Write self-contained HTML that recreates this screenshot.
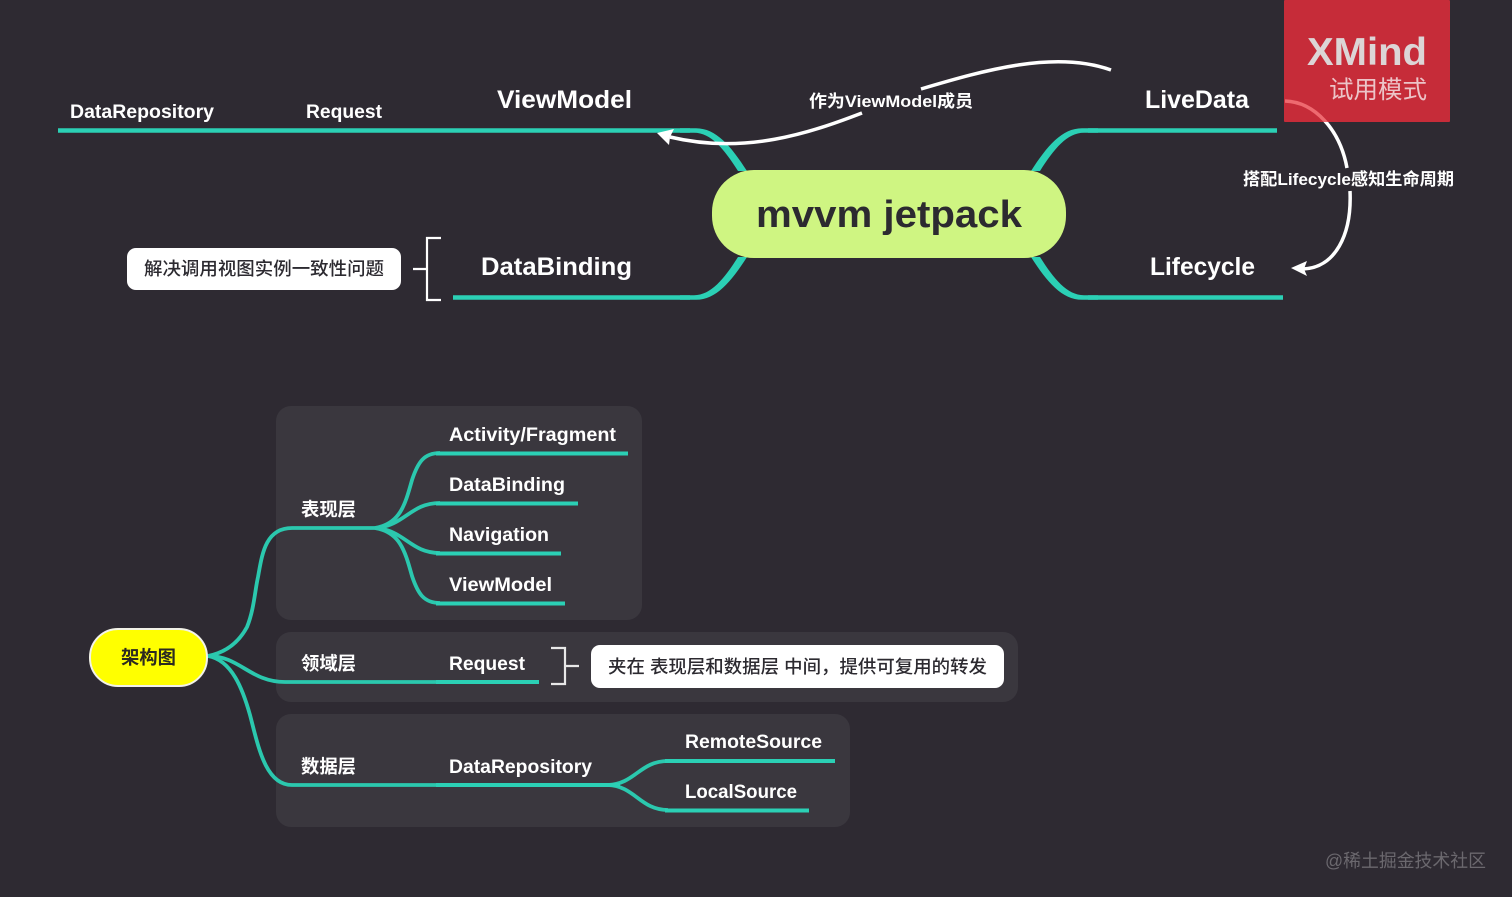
<!DOCTYPE html>
<html>
<head>
<meta charset="utf-8">
<style>
html,body{margin:0;padding:0;background:#2e2a32;width:1512px;height:897px;overflow:hidden}
svg{display:block}
text{font-family:"Liberation Sans","Noto Sans CJK SC",sans-serif;font-weight:700;fill:#fff}
.cjk{font-weight:700}
.note{font-weight:500;fill:#2c2a30}
</style>
</head>
<body>
<svg width="1512" height="897" viewBox="0 0 1512 897" xmlns="http://www.w3.org/2000/svg">
<defs>
<clipPath id="onRed"><rect x="1284" y="0" width="166" height="122"/></clipPath>
<clipPath id="offRed"><rect x="1284" y="122" width="166" height="60"/></clipPath>
<path id="taper" d="M680 128.200H696C716 128.200 731 146 747 171L738 171C724 149 711 132.800 694 132.800H680Z" fill="#2bd0b5"/>
</defs>
<rect width="1512" height="897" fill="#2e2a32"/>

<!-- watermark panel -->
<rect x="1284" y="0" width="166" height="122" rx="1" fill="#c62c39"/>
<text x="1307" y="65" font-size="39" textLength="120" lengthAdjust="spacingAndGlyphs" style="fill:#dcd5d6">XMind</text>
<text x="1329" y="98" font-size="24.5" textLength="98" lengthAdjust="spacingAndGlyphs" style="fill:#ecc4c8;font-weight:400">试用模式</text>

<!-- group panels -->
<rect x="276" y="406" width="366" height="214" rx="15" fill="#3a373e"/>
<rect x="276" y="632" width="742" height="70" rx="15" fill="#3a373e"/>
<rect x="276" y="714" width="574" height="113" rx="15" fill="#3a373e"/>

<!-- top map connectors -->
<g fill="none" stroke="#2bd0b5" stroke-width="4.500">
<path d="M58 130.500H690"/>
<path d="M453 297.500H690"/>
<path d="M1277 130.500H1088"/>
<path d="M1283 297.500H1088"/>
</g>
<use href="#taper"/>
<use href="#taper" transform="matrix(-1 0 0 1 1778 0)"/>
<use href="#taper" transform="matrix(1 0 0 -1 0 428)"/>
<use href="#taper" transform="matrix(-1 0 0 -1 1778 428)"/>

<!-- central topic -->
<rect x="712" y="170" width="354" height="88" rx="42" fill="#cff582"/>
<text x="756" y="227" font-size="38" textLength="266" lengthAdjust="spacingAndGlyphs" style="fill:#2c2a30">mvvm jetpack</text>

<!-- relationship curves -->
<g fill="none" stroke="#fff" stroke-width="3.500">
<path d="M1111 70C1055 50 985 70 921 89"/>
<path d="M862 113C810 133 745 155 670 137"/>
<path d="M1285 101C1315 102 1340 130 1347 168" stroke="#ee6a70" clip-path="url(#onRed)"/>
<path d="M1285 101C1315 102 1340 130 1347 168" clip-path="url(#offRed)"/>
<path d="M1350 191C1352 235 1335 268 1303 269"/>
</g>
<polygon points="657,133 674,129 670,137 669,145" fill="#fff"/>
<polygon points="1291,268 1307,261 1304,269 1307,276" fill="#fff"/>

<!-- top labels -->
<text x="70" y="118" font-size="19" textLength="144" lengthAdjust="spacingAndGlyphs">DataRepository</text>
<text x="306" y="118" font-size="19" textLength="76" lengthAdjust="spacingAndGlyphs">Request</text>
<text x="497" y="108" font-size="25" textLength="135" lengthAdjust="spacingAndGlyphs">ViewModel</text>
<text x="481" y="275" font-size="25" textLength="151" lengthAdjust="spacingAndGlyphs">DataBinding</text>
<text x="1145" y="108" font-size="25" textLength="104" lengthAdjust="spacingAndGlyphs">LiveData</text>
<text x="1150" y="275" font-size="25" textLength="105" lengthAdjust="spacingAndGlyphs">Lifecycle</text>
<text x="809" y="107" font-size="17" textLength="164" lengthAdjust="spacingAndGlyphs">作为ViewModel成员</text>
<text x="1243" y="185" font-size="17" textLength="211" lengthAdjust="spacingAndGlyphs">搭配Lifecycle感知生命周期</text>

<!-- DataBinding callout -->
<rect x="127" y="248" width="274" height="42" rx="9" fill="#fff"/>
<text class="note" x="144" y="275" font-size="18" textLength="240" lengthAdjust="spacingAndGlyphs">解决调用视图实例一致性问题</text>
<path d="M441 238H427V300H441M413 269H427" fill="none" stroke="#fff" stroke-width="2.200"/>

<!-- bottom map connectors -->
<g fill="none" stroke="#2bc8ae">
<path d="M208 656C228 652 240 640 247 627C254 610 255 590 258 577C262 555 265 528 292 528H380" stroke-width="3.800"/>
<path d="M208 656C240 656 250 682 285 682H436" stroke-width="3.800"/>
<path d="M208 656C232 660 243 690 250 715C258 745 265 785 292 785H436" stroke-width="3.800"/>
<path d="M375 528C400 524 405 505 412 480C418 462 424 453 440 453" stroke-width="3.800"/>
<path d="M375 528C405 526 410 503 440 503" stroke-width="3.800"/>
<path d="M375 528C405 530 410 553 440 553" stroke-width="3.800"/>
<path d="M375 528C400 532 405 551 412 576C418 594 424 603 440 603" stroke-width="3.800"/>
<path d="M608 785C635 784 640 761 668 761" stroke-width="3.800"/>
<path d="M608 785C635 786 640 810 668 810" stroke-width="3.800"/>
</g>
<g fill="none" stroke="#2bd0b5" stroke-width="4">
<path d="M436 453.500H628"/>
<path d="M436 503.500H578"/>
<path d="M436 553.500H561"/>
<path d="M436 603.500H565"/>
<path d="M436 682H539"/>
<path d="M436 785H620"/>
<path d="M665 761H835"/>
<path d="M665 810.500H809"/>
</g>

<!-- root node -->
<rect x="90" y="629" width="117" height="57" rx="28" fill="#ffff00" stroke="#f2f2e8" stroke-width="2"/>
<text class="cjk" x="121" y="664" font-size="18.500" textLength="55" lengthAdjust="spacingAndGlyphs" style="fill:#2c2a20">架构图</text>

<!-- bottom labels -->
<text class="cjk" x="301" y="516" font-size="18.500" textLength="55" lengthAdjust="spacingAndGlyphs">表现层</text>
<text class="cjk" x="301" y="670" font-size="18.500" textLength="55" lengthAdjust="spacingAndGlyphs">领域层</text>
<text class="cjk" x="301" y="773" font-size="18.500" textLength="55" lengthAdjust="spacingAndGlyphs">数据层</text>
<text x="449" y="441" font-size="19" textLength="167" lengthAdjust="spacingAndGlyphs">Activity/Fragment</text>
<text x="449" y="491" font-size="19" textLength="116" lengthAdjust="spacingAndGlyphs">DataBinding</text>
<text x="449" y="541" font-size="19" textLength="100" lengthAdjust="spacingAndGlyphs">Navigation</text>
<text x="449" y="591" font-size="19" textLength="103" lengthAdjust="spacingAndGlyphs">ViewModel</text>
<text x="449" y="670" font-size="19" textLength="76" lengthAdjust="spacingAndGlyphs">Request</text>
<text x="449" y="773" font-size="19" textLength="143" lengthAdjust="spacingAndGlyphs">DataRepository</text>
<text x="685" y="748" font-size="19" textLength="137" lengthAdjust="spacingAndGlyphs">RemoteSource</text>
<text x="685" y="798" font-size="19" textLength="112" lengthAdjust="spacingAndGlyphs">LocalSource</text>

<!-- Request callout -->
<path d="M551 648H565V684H551M565 666H579" fill="none" stroke="#e8e8e8" stroke-width="2.200"/>
<rect x="591" y="645" width="413" height="43" rx="9" fill="#fff"/>
<text class="note" x="608" y="673" font-size="18" textLength="379" lengthAdjust="spacingAndGlyphs">夹在 表现层和数据层 中间，提供可复用的转发</text>

<!-- site watermark -->
<text x="1325" y="867" font-size="18" textLength="161" lengthAdjust="spacingAndGlyphs" style="fill:#6b686e;font-weight:400">@稀土掘金技术社区</text>
</svg>
</body>
</html>
